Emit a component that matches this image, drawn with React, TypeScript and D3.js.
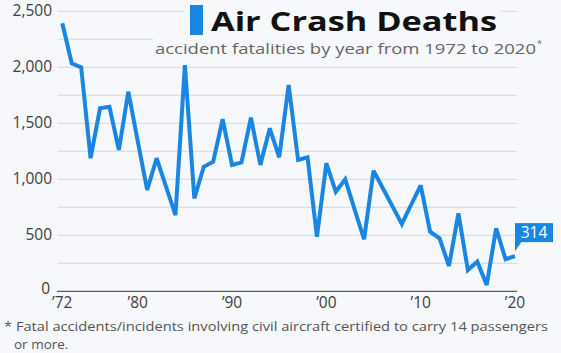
import React from "react";
import * as d3 from "d3";

const years: number[] = d3.range(1972, 2021);
const deaths: number[] = [
  2393, 2036, 2000, 1188, 1634, 1648, 1262, 1782, 1340, 906,
  1188, 935, 681, 2020, 830, 1112, 1157, 1536, 1128, 1150,
  1550, 1128, 1455, 1196, 1842, 1172, 1196, 488, 1143, 889,
  1000, 730, 464, 1077, 918, 760, 601, 775, 945, 532,
  473, 226, 696, 190, 264, 56, 562, 286, 314,
];
const yTicks: number[] = [0, 500, 1000, 1500, 2000, 2500];
const gridValues: number[] = d3.range(250, 2501, 250);
const xTickYears: number[] = [1972, 1980, 1990, 2000, 2010, 2020];
const xTickLabels: string[] = ["\u201972", "\u201980", "\u201990", "\u201900", "\u201910", "\u201920"];

const W = 561;
const H = 353;
const BLUE = "#1a86e3";
const FONT = "'Open Sans', 'Noto Sans', sans-serif";

export default function App() {
  const x = d3.scaleLinear().domain([1972, 2020]).range([62.3, 515]);
  const y = d3.scaleLinear().domain([0, 2500]).range([291.3, 11.3]);
  const line = d3
    .line<number>()
    .x((_, i) => x(years[i]))
    .y((d) => y(d))
    .curve(d3.curveLinear);

  const lastX = x(years[years.length - 1]);
  const lastY = y(deaths[deaths.length - 1]);

  return (
    <svg
      width={W}
      height={H}
      style={{ position: "absolute", left: 0, top: 0, background: "#f6f8fb" }}
      fontFamily={FONT}
    >
      <rect x={0} y={0} width={W} height={H} fill="#f6f8fb" />
      {gridValues.map((v) => (
        <line key={v} x1={58} x2={517} y1={y(v)} y2={y(v)} stroke="#dcdfe3" strokeWidth={1.2} />
      ))}
      <line x1={57} x2={517} y1={y(0)} y2={y(0)} stroke="#5a5a5a" strokeWidth={1.3} />
      {yTicks.map((v) => (
        <text
          key={v}
          x={v === 0 ? 50 : 52}
          y={y(v) + (v === 0 ? 3 : 5)}
          textAnchor="end"
          fontSize={15.5}
          fill="#404040"
        >
          {d3.format(",")(v)}
        </text>
      ))}
      {xTickYears.map((yr, i) => (
        <text key={yr} x={x(yr)} y={308} textAnchor="middle" fontSize={15.5} fill="#404040">
          {xTickLabels[i]}
        </text>
      ))}
      <path
        d={line(deaths) || ""}
        fill="none"
        stroke={BLUE}
        strokeWidth={4}
        strokeLinejoin="miter"
        strokeMiterlimit={2.5}
      />
      {/* end label */}
      <path
        d={`M${lastX},${lastY - 15} L${lastX},${lastY - 5} L${lastX + 7},${lastY - 15} Z`}
        fill={BLUE}
      />
      <rect x={lastX} y={lastY - 33} width={38} height={19} fill={BLUE} />
      <text x={lastX + 19} y={lastY - 18} textAnchor="middle" fontSize={15.5} fill="#ffffff">
        {String(deaths[deaths.length - 1])}
      </text>
      {/* title block */}
      <rect x={185} y={0} width={316} height={36} fill="#f6f8fb" />
      <rect x={153} y={36} width={W - 153} height={22} fill="#f6f8fb" />
      <rect x={190} y={5} width={13} height={30} fill={BLUE} />
      <text
        x={211}
        y={31}
        fontSize={27.5}
        fontWeight={700}
        fill="#111"
        textLength={286}
        lengthAdjust="spacingAndGlyphs"
      >
        Air Crash Deaths
      </text>
      <text x={155} y={54} fontSize={14.5} fill="#666" textLength={381} lengthAdjust="spacingAndGlyphs">
        accident fatalities by year from 1972 to 2020
      </text>
      <text x={537} y={47} fontSize={9} fill="#666">
        *
      </text>
      {/* footnote */}
      <text x={4} y={331} fontSize={13.5} fill="#555" textLength={544} lengthAdjust="spacingAndGlyphs">
        * Fatal accidents/incidents involving civil aircraft certified to carry 14 passengers
      </text>
      <text x={14} y={349} fontSize={13.5} fill="#555">
        or more.
      </text>
    </svg>
  );
}
